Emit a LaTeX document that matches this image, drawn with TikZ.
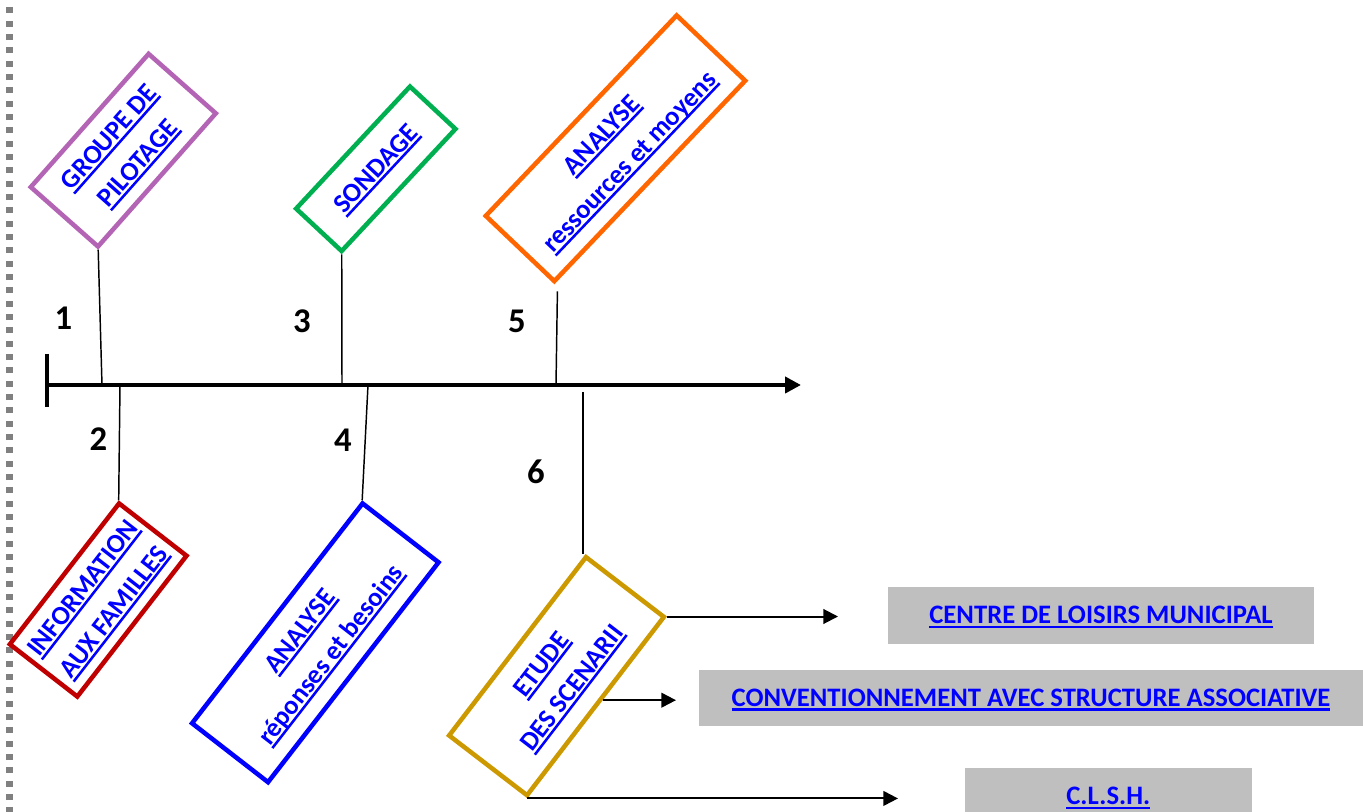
\documentclass[tikz,border=0pt]{standalone}
\usepackage{fontspec}
\setmainfont{Carlito}
\usetikzlibrary{arrows.meta,calc}
\definecolor{lnkblue}{RGB}{0,0,255}
\definecolor{cpurple}{RGB}{180,100,180}
\definecolor{cgreen}{RGB}{0,176,80}
\definecolor{corange}{RGB}{255,102,0}
\definecolor{cred}{RGB}{192,0,0}
\definecolor{cblue}{RGB}{0,0,255}
\definecolor{cgold}{RGB}{204,153,0}
\definecolor{gfill}{RGB}{191,191,191}
\definecolor{dotgray}{RGB}{128,128,128}
\newcommand\ulx[1]{\leavevmode\setbox0=\hbox{#1}\rlap{\raisebox{-3.1pt}[0pt][0pt]{\rule{\wd0}{1.9pt}}}\box0}
\begin{document}
\begin{tikzpicture}[x=0.75pt,y=-0.75pt,
  tbox/.style={draw, line width=3.4pt, inner sep=0pt, align=center, text=lnkblue,
    font=\fontsize{20}{29}\selectfont\bfseries, text height=41.6pt, text depth=0pt},
  gbox/.style={fill=gfill, inner sep=0pt, text=lnkblue,
    font=\fontsize{20}{24}\selectfont\bfseries, text height=12.6pt, text depth=0pt},
  num/.style={anchor=base, inner sep=0pt, font=\fontsize{26}{26}\selectfont\bfseries},
  conn/.style={line width=1.1pt},
  outarrow/.style={line width=1.5pt, -{Triangle[length=11pt,width=11pt]}}
]
\useasboundingbox (0,0) rectangle (1363,812);

% dotted page border
\foreach \k in {-4,...,57}
  \fill[dotgray] (6,{47.3+13.333*\k}) rectangle ++(6.5,6);

% axis
\coordinate (ax0) at (47,385);
\coordinate (ax1) at (801,385);
\draw[line width=3pt, -{Triangle[length=12pt,width=12pt]}] (ax0) -- (ax1);
\coordinate (tk0) at (47,354);
\coordinate (tk1) at (47,407);
\draw[line width=2.3pt] (tk0) -- (tk1);

% boxes
\node[tbox, draw=cpurple, rotate=48.5, minimum width=133.35pt, minimum height=67.3pt]
  (b1) at (123.3,150.2) {\ulx{GROUPE DE}\\\ulx{PILOTAGE}};
\node[tbox, draw=cgreen, rotate=47, minimum width=125.2pt, minimum height=46.65pt, text height=12.6pt]
  (b3) at (375.8,168.8) {\ulx{SONDAGE}};
\node[tbox, draw=corange, rotate=46.4, minimum width=207.6pt, minimum height=71pt]
  (b5) at (615.5,148.3) {\ulx{ANALYSE}\\\ulx{ressources et moyens}};
\node[tbox, draw=cred, rotate=52.2, minimum width=133.65pt, minimum height=64pt]
  (b2) at (98.2,600) {\ulx{INFORMATION}\\\ulx{AUX FAMILLES}};
\node[tbox, draw=cblue, rotate=52.2, minimum width=208.65pt, minimum height=72.1pt]
  (b4) at (315.3,642.8) {\ulx{ANALYSE}\\\ulx{réponses et besoins}};
\node[tbox, draw=cgold, rotate=52.5, minimum width=168.6pt, minimum height=73.65pt]
  (b6) at (556.5,676.2) {\ulx{ETUDE}\\\ulx{DES SCENARII}};

% axis attachment points
\coordinate (a1) at (102,385);
\coordinate (a3) at (342,385);
\coordinate (a5) at (556,385);
\coordinate (a2) at (120,385);
\coordinate (a4) at (368,385);
\coordinate (a6) at (583,392);

\draw[conn] (b1.south west) -- (a1);
\draw[conn] (b3.south west) -- (a3);
\draw[conn] ([shift={(3,7)}]b5.south west) -- (a5);
\draw[conn] (a2) -- (b2.north east);
\draw[conn] (a4) -- (b4.north east);
\draw[conn] (a6) -- (a6 |- b6.north east);

% numbers
\node[num] (n1) at (63.5,330) {1};
\node[num] (n2) at (98.5,451) {2};
\node[num] (n3) at (302,332.7) {3};
\node[num] (n4) at (343,451.7) {4};
\node[num] (n5) at (517,332.7) {5};
\node[num] (n6) at (536,483.3) {6};

% gray result boxes
\node[gbox, minimum width=319.5pt, minimum height=42.75pt] (g1) at (1101,615.5) {\ulx{CENTRE DE LOISIRS MUNICIPAL}};
\node[gbox, minimum width=498pt, minimum height=42pt] (g2) at (1031,698) {\ulx{CONVENTIONNEMENT AVEC STRUCTURE ASSOCIATIVE}};
\node[gbox, minimum width=215pt, minimum height=42.75pt] (g3) at (1108.3,796.5) {\ulx{C.L.S.H.}};

% arrows from box 6
\coordinate (t1) at (838,615);
\coordinate (t2) at (676,699);
\coordinate (t3) at (898,799);
\coordinate (s2) at ($(b6.south west)!0.54!(b6.south east)$);
\draw[outarrow] (b6.south east) -- (b6.south east -| t1);
\draw[outarrow] (s2) -- (s2 -| t2);
\draw[outarrow] (b6.south west) -- (b6.south west -| t3);
\end{tikzpicture}
\end{document}
